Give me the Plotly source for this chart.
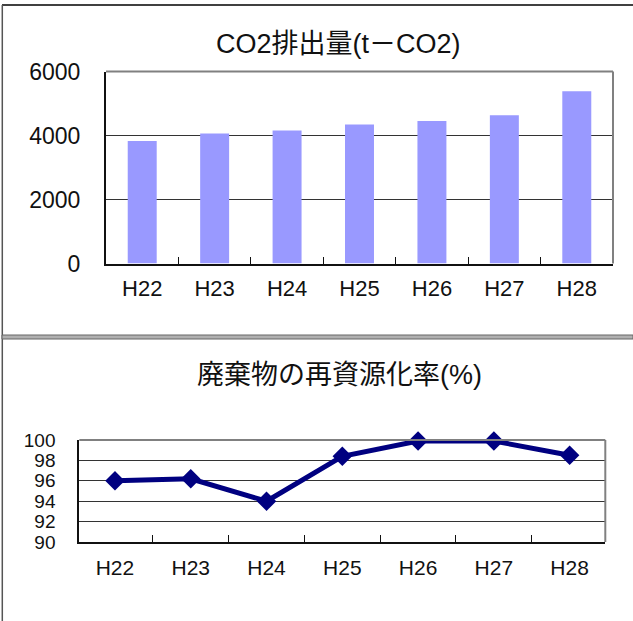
import plotly.graph_objects as go

# ---- data ----
years = ["H22", "H23", "H24", "H25", "H26", "H27", "H28"]
co2_values = [3830, 4060, 4160, 4340, 4450, 4630, 5380]
recycle_rate = [96.0, 96.2, 94.0, 98.4, 99.9, 99.9, 98.5]
co2_ticks = [0, 2000, 4000, 6000]
rate_ticks = [90, 92, 94, 96, 98, 100]
title_co2 = "CO2排出量(t－CO2)"
title_rate = "廃棄物の再資源化率(%)"

W, H = 633, 621
def px(x):
    return x / W
def py(y):
    return 1 - y / H

LAT = "Liberation Sans, Arial, Noto Sans CJK JP, sans-serif"
CJK = "Liberation Sans, Noto Sans CJK JP, sans-serif"

fig = go.Figure()
fig.add_trace(go.Bar(x=years, y=co2_values, marker=dict(color="#9999FF", line=dict(width=0)),
                     xaxis="x", yaxis="y", hoverinfo="skip"))
fig.add_trace(go.Scatter(x=years, y=recycle_rate, mode="lines+markers",
                         line=dict(color="#000080", width=5),
                         marker=dict(symbol="diamond", size=15, color="#000080"),
                         cliponaxis=False, xaxis="x2", yaxis="y2", hoverinfo="skip"))

top_x = [106, 613]
top_y = [71.5, 263.5]
bot_x = [79.3, 605.3]
bot_y = [440, 542]

common_x = dict(type="category", showline=True, linecolor="#111", linewidth=2, mirror=False,
                ticks="inside", tickson="boundaries", ticklen=7, tickcolor="#111", tickwidth=1,
                showgrid=False, zeroline=False, automargin=False)
common_y = dict(showline=True, linecolor="#111", linewidth=2, ticks="", showgrid=True,
                gridcolor="#333", gridwidth=1, zeroline=False, automargin=False)

fig.update_layout(
    width=W, height=H, margin=dict(l=0, r=0, t=0, b=0, pad=0, autoexpand=False),
    paper_bgcolor="white", plot_bgcolor="white", showlegend=False,
    bargap=0.6,
    xaxis=dict(common_x, domain=[px(top_x[0]), px(top_x[1])], anchor="y",
               tickfont=dict(family=LAT, size=22, color="#111"), ticklabelstandoff=4),
    yaxis=dict(common_y, domain=[py(top_y[1]), py(top_y[0])], anchor="x",
               range=[0, 6000], tickvals=co2_ticks,
               tickfont=dict(family=LAT, size=23, color="#111"), ticklabelstandoff=19),
    xaxis2=dict(common_x, domain=[px(bot_x[0]), px(bot_x[1])], anchor="y2",
                tickfont=dict(family=LAT, size=21, color="#111"), ticklabelstandoff=6),
    yaxis2=dict(common_y, domain=[py(bot_y[1]), py(bot_y[0])], anchor="x2",
                range=[90, 100], tickvals=rate_ticks,
                tickfont=dict(family=LAT, size=19, color="#111"), ticklabelstandoff=18),
)

shapes = []
# gray top/right plot borders
for (xs, ys) in [(top_x, top_y), (bot_x, bot_y)]:
    shapes.append(dict(type="line", xref="paper", yref="paper",
                       x0=px(xs[0]), x1=px(xs[1]), y0=py(ys[0]), y1=py(ys[0]),
                       line=dict(color="#808080", width=2)))
    shapes.append(dict(type="line", xref="paper", yref="paper",
                       x0=px(xs[1]), x1=px(xs[1]), y0=py(ys[0]), y1=py(ys[1]),
                       line=dict(color="#808080", width=2)))
# panel frame
shapes.append(dict(type="line", xref="paper", yref="paper", x0=px(2), x1=1, y0=py(5), y1=py(5),
                   line=dict(color="#000", width=1.5)))
shapes.append(dict(type="line", xref="paper", yref="paper", x0=px(2.3), x1=px(2.3), y0=py(5), y1=0,
                   line=dict(color="#555", width=1.5)))
shapes.append(dict(type="rect", xref="paper", yref="paper", x0=px(2), x1=1, y0=py(339), y1=py(335),
                   fillcolor="#b0b0b0", line=dict(color="#666", width=1)))
fig.update_layout(shapes=shapes)

fig.add_annotation(text=title_co2, xref="paper", yref="paper", x=px(338), y=py(44),
                   xanchor="center", yanchor="middle", showarrow=False,
                   font=dict(family=CJK, size=27, color="#111"))
fig.add_annotation(text=title_rate, xref="paper", yref="paper", x=px(339), y=py(375),
                   xanchor="center", yanchor="middle", showarrow=False,
                   font=dict(family=CJK, size=27, color="#111"))

post = (
    "document.documentElement.style.margin='0';document.documentElement.style.padding='0';"
    "document.documentElement.style.overflow='hidden';"
    "document.body.style.margin='0';document.body.style.padding='0';document.body.style.overflow='hidden';"
    "var d=document.querySelector('.plotly-graph-div');"
    "d.style.position='fixed';d.style.left='0px';d.style.top='0px';"
)
fig.write_html("out.html", config={"displayModeBar": False}, post_script=post)
